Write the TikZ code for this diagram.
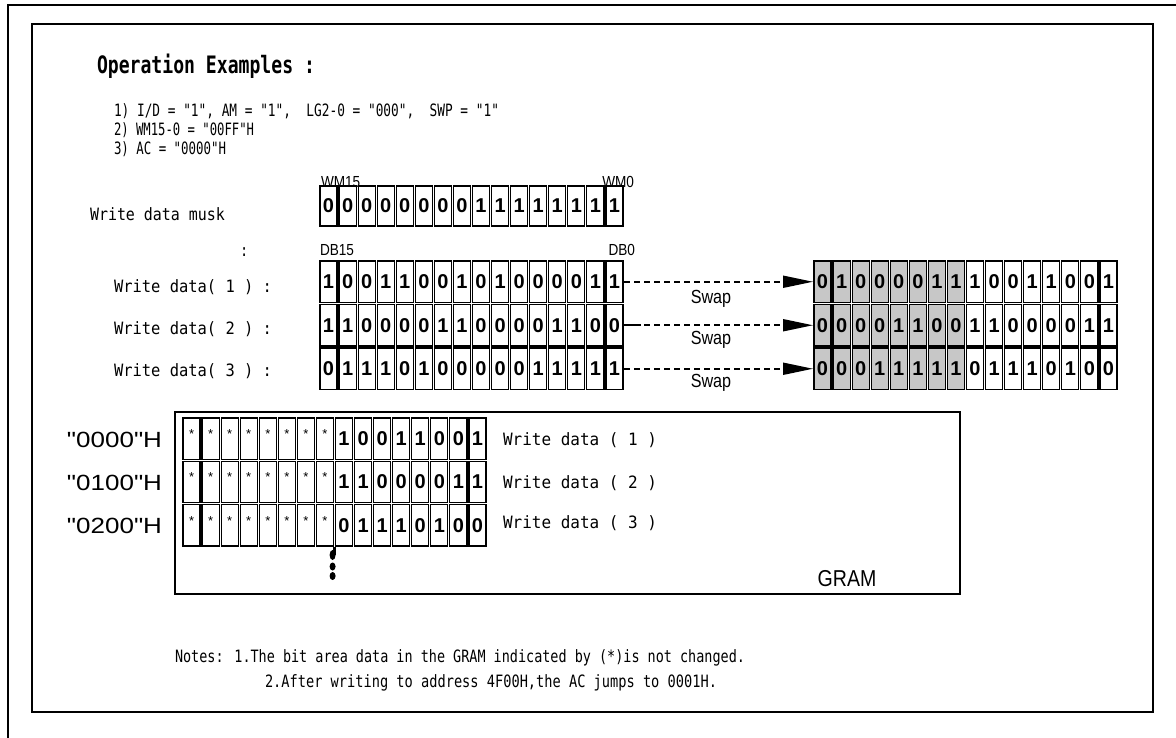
\documentclass[tikz,border=0pt]{standalone}
\usepackage{fontspec}
\usepackage{graphicx}
\usetikzlibrary{arrows.meta}
\setmainfont{Liberation Sans}
\newfontfamily\monof[FakeStretch=0.8]{DejaVu Sans Mono}
\newfontfamily\narf[FakeStretch=0.85]{Liberation Sans}
\newfontfamily\cellf{Liberation Sans}
\newcommand\fitw[2]{\resizebox{#1}{\height}{#2}}
\newcommand\dq{\char34\relax}
\newcommand\st{\raisebox{9pt}{\cellf\mdseries\fontsize{13}{13}\selectfont *}}
\tikzset{
  every node/.style={inner sep=0pt, outer sep=0pt},
  mono/.style={font=\monof\fontsize{17}{17}\selectfont, anchor=west},
  cell/.style={draw, line width=1.2pt, minimum width=17.06pt, font=\cellf\bfseries\fontsize{20}{20}\selectfont},
  shadedcell/.style={cell, fill=black!22},
  bitlbl/.style={font=\narf\fontsize{16}{16}\selectfont},
  swaplbl/.style={font=\narf\fontsize{19}{19}\selectfont},
  addr/.style={font=\narf\fontsize{22}{22}\selectfont, anchor=east},
  arr/.style={line width=1.8pt, dash pattern=on 6pt off 4pt, -{Triangle[length=30pt,width=12pt]}},
  frame/.style={line width=2pt},
}
\newcommand\bitrow[6]{%
  \foreach \b [count=\i from 0] in {#6} {%
    \pgfmathsetmacro\xc{#2+19.0625*(\i+0.5)}%
    \ifnum\i<8
      \node[#5, minimum height=#4pt] (#1c\i) at (\xc,#3) {\b};
    \else
      \node[cell, minimum height=#4pt] (#1c\i) at (\xc,#3) {\b};
    \fi
  }%
  \node[minimum width=305pt, minimum height=#4pt+2pt] (#1) at ({#2+152.5},#3) {};%
}
\begin{document}
\begin{tikzpicture}[x=1pt,y=-1pt]
\useasboundingbox (0,0) rectangle (1176,738);
% frames
\draw[frame] (1176,5) -- (8,5) -- (8,738);
\draw[frame] (32,24) rectangle (1153,712);
% heading texts
\node[mono, font=\monof\bfseries\fontsize{24}{24}\selectfont] (title) at (97,66) {\fitw{218pt}{Operation Examples :}};
\node[mono] (c1) at (114,111) {\fitw{385pt}{1) I/D = "1", AM = "1",~ LG2-0 = "000",~ SWP = "1"}};
\node[mono] (c2) at (114,130) {\fitw{140pt}{2) WM15-0 = "00FF"H}};
\node[mono] (c3) at (114,149) {\fitw{112pt}{3) AC = "0000"H}};
% write data musk
\node[mono] (musk) at (90,214) {\fitw{135pt}{Write data musk}};
\node[bitlbl, anchor=south west] (wm15) at (321,188) {WM15};
\node[bitlbl, anchor=south east] (wm0l) at (634,188) {WM0};
\bitrow{wm}{319}{206}{40}{cell}{0,0,0,0,0,0,0,0,1,1,1,1,1,1,1,1}
% write data
\node[mono] (colon) at (240,252) {:};
\node[bitlbl, anchor=west] (db15) at (320,250) {DB15};
\node[bitlbl, anchor=east] (db0) at (635,250) {DB0};
\node[mono] (w1) at (114,287) {\fitw{158pt}{Write data( 1 ) :}};
\node[mono] (w2) at (114,329) {\fitw{158pt}{Write data( 2 ) :}};
\node[mono] (w3) at (114,371) {\fitw{158pt}{Write data( 3 ) :}};
\bitrow{d1}{319}{281.75}{41.5}{cell}{1,0,0,1,1,0,0,1,0,1,0,0,0,0,1,1}
\bitrow{d2}{319}{325.25}{41.5}{cell}{1,1,0,0,0,0,1,1,0,0,0,0,1,1,0,0}
\bitrow{d3}{319}{368.75}{41.5}{cell}{0,1,1,1,0,1,0,0,0,0,0,1,1,1,1,1}
% swapped
\bitrow{s1}{813}{281.75}{41.5}{shadedcell}{0,1,0,0,0,0,1,1,1,0,0,1,1,0,0,1}
\bitrow{s2}{813}{325.25}{41.5}{shadedcell}{0,0,0,0,1,1,0,0,1,1,0,0,0,0,1,1}
\bitrow{s3}{813}{368.75}{41.5}{shadedcell}{0,0,0,1,1,1,1,1,0,1,1,1,0,1,0,0}
\draw[arr] (d1.east) -- (s1.west);
\draw[line width=1.8pt] (d2.east) -- ++(17,0);
\draw[arr] (d2.east) -- (s2.west);
\draw[arr] (d3.east) -- (s3.west);
\node[swaplbl] (sw1) at (711,299) {Swap};
\node[swaplbl] (sw2) at (711,340) {Swap};
\node[swaplbl] (sw3) at (711,383) {Swap};
% GRAM
\node[draw, frame, minimum width=785pt, minimum height=182pt] (gram) at (567.5,503) {};
\bitrow{g1}{182}{438.67}{41.3}{cell}{\st,\st,\st,\st,\st,\st,\st,\st,1,0,0,1,1,0,0,1}
\bitrow{g2}{182}{482}{41.3}{cell}{\st,\st,\st,\st,\st,\st,\st,\st,1,1,0,0,0,0,1,1}
\bitrow{g3}{182}{525.33}{41.3}{cell}{\st,\st,\st,\st,\st,\st,\st,\st,0,1,1,1,0,1,0,0}
\node[addr] (a1) at (162,440) {\fitw{95pt}{\dq0000\dq H}};
\node[addr] (a2) at (162,483) {\fitw{95pt}{\dq0100\dq H}};
\node[addr] (a3) at (162,526) {\fitw{95pt}{\dq0200\dq H}};
\node[mono] (gw1) at (503,440) {\fitw{154pt}{Write data ( 1 )}};
\node[mono] (gw2) at (503,483) {\fitw{154pt}{Write data ( 2 )}};
\node[mono] (gw3) at (503,523) {\fitw{154pt}{Write data ( 3 )}};
\node[font=\narf\fontsize{23}{23}\selectfont] (gramlbl) at (847,579) {GRAM};
\draw[line width=3pt] (g3c7.south east) ++(0.5,1) -- ++(0,8);
\fill (332.6,555) ellipse [x radius=3pt, y radius=5pt];
\fill (332.6,566.5) ellipse [x radius=3pt, y radius=4pt];
\fill (332.6,576) ellipse [x radius=3pt, y radius=4pt];
% notes
\node[mono] (n1) at (175,658) {\fitw{570pt}{Notes: 1.The bit area data in the GRAM indicated by (*)is not changed.}};
\node[mono] (n2) at (265,683) {\fitw{452pt}{2.After writing to address 4F00H,the AC jumps to 0001H.}};
\end{tikzpicture}
\end{document}
